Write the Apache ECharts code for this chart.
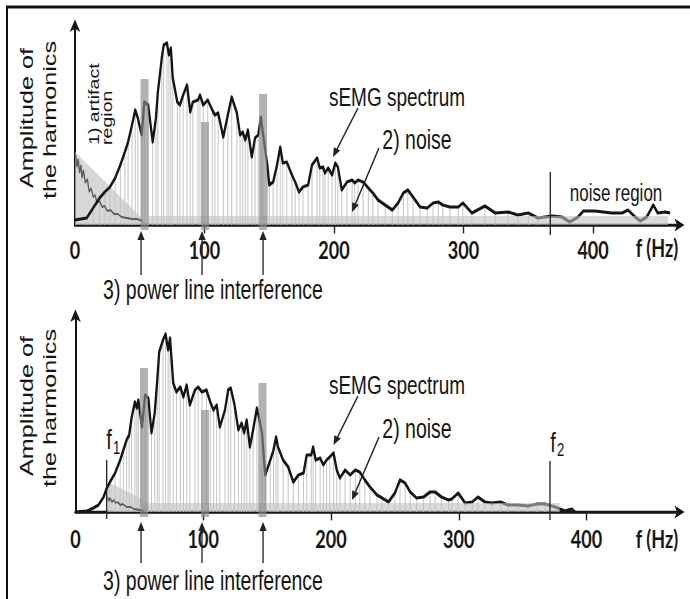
<!DOCTYPE html>
<html>
<head>
<meta charset="utf-8">
<script src="https://cdn.jsdelivr.net/npm/echarts@6/dist/echarts.min.js"></script>
<style>
  html, body { margin: 0; padding: 0; background: #fff; overflow: hidden; }
  #wrap { width: 690px; height: 599px; overflow: hidden; }
  /* the figure is drawn at a compressed height and stretched vertically */
  #chart { width: 690px; height: 428px; transform: scaleY(1.39953); transform-origin: 0 0; }
</style>
</head>
<body>
<div id="wrap"><div id="chart"></div></div>
<script>
// ---------- data ----------
// tick values of the frequency axis (Hz)
const freqTicks = [0, 100, 200, 300, 400];

// raw sEMG spectrum with artifacts and noise: [frequency Hz, amplitude]
const spectrumRaw = [
  [0,5],[9,7],[14,17],[19,27],[23,33],[27,38],[31,47],[35,60],[38.5,73],[41,83],[44,100],[46.5,115],
  [48.5,107],[51.5,90],[53.5,123],[56.5,120],[60,83],[62.5,107],[64,133],[67,167],[68.5,180],[71,182],
  [72.5,170],[74,177],[75.5,147],[79,123],[81,120],[83.5,130],[86.5,140],[89,113],[91,123],[95,125],
  [96.5,130],[99,120],[102.5,125],[106,115],[108,110],[110.5,112],[114.5,88],[118,110],[121,128],[125,112],
  [127.5,90],[129.5,93],[131.5,85],[133.5,95],[136.5,68],[139,87],[141.5,90],[143.5,108],[145,93],[148.5,60],
  [150,40],[153,43],[156,60],[158.5,78],[160.5,62],[163.5,63],[167.5,50],[170,43],[173,33],[176,38],
  [180,40],[183,60],[187,67],[189,57],[191.5,58],[193,52],[195.5,57],[198.5,50],[201,62],[203,58],
  [206,35],[210,43],[214,45],[216,42],[218.5,45],[222.5,43],[226.5,37],[230,32],[234,25],[239.5,20],
  [245,15],[249.5,22],[253.5,32],[257,35],[261,28],[266.5,18],[272,17],[276.5,22],[280.5,23],[284,20],
  [289.5,18],[296,18],[299.5,22],[306.5,12],[316.5,19],[324.5,12],[334.5,13],[342,10],[350,12],[357.5,7],
  [368.5,9],[376,8],[382,3],[388.5,8],[392.5,14],[401.5,14],[414.5,12],[422.5,12],[427,15],[432.5,8],
  [436.5,4],[441.5,8],[446.5,20],[450,12],[455.5,13],[459.5,12]
];
// movement artifact component at low frequencies
const artifactRaw = [
  [0.5,70],[1.5,58],[2.5,66],[3.5,52],[4.5,60],[5.5,47],[6.5,55],[8,42],[9.5,46],[11,33],[12.5,37],
  [14,28],[15.5,30],[17,22],[19,24],[21,18],[23,19],[25,14],[27.5,15],[30,11],[33,11],[36,8],[40,7],
  [44,6],[48,6],[52,4]
];
// power line peaks (50 Hz and harmonics): [frequency, amplitude]
const powerLineRaw = [[53.7,146],[100.4,103],[145.2,131]];

// filtered spectrum, band-limited between f1 and f2
const spectrumFiltered = [
  [0,0],[9,1],[14,4],[18,7],[22,15],[24.5,24],[27,30],[31,39],[35,52],[37.5,62],[40,72],[42,77],[44,95],
  [46.5,110],[48,104],[49.2,112],[52,85],[54.5,117],[57,114],[59.5,79],[62,99],[64,132],[65.5,160],
  [68.5,172],[70.5,178],[72.5,162],[74,174],[76.5,129],[79,120],[82,125],[84.5,115],[87,127],[89.5,107],
  [93.5,122],[96,125],[99,120],[102.5,122],[105.5,110],[108,102],[110.5,107],[113,85],[117,102],[119.5,122],
  [121.5,124],[124.5,107],[127.5,82],[130,89],[132,79],[134,92],[136.5,65],[139,82],[142,104],[143.5,95],
  [146,79],[148.5,37],[152.5,52],[155,62],[157,75],[158.5,65],[162.5,52],[166.5,45],[170.5,30],[174.5,37],
  [178.5,39],[181,57],[184.5,57],[186,65],[188,52],[191.5,54],[194,47],[196.5,52],[199,55],[202,59],
  [204.5,42],[207,34],[211,42],[215,37],[219,42],[222.5,40],[226.5,32],[230.5,25],[236,17],[240,14],
  [245,10],[250,19],[254,32],[258,29],[262,20],[267,14],[272.5,15],[277.5,20],[281.5,20],[286.5,15],
  [292,12],[294.5,13],[299.5,19],[305,9],[310.5,10],[315,15],[320.5,10],[326,9],[332.5,10],[338.5,7],
  [346.5,7],[354,6],[361.5,8],[367.5,8],[373,6],[377.5,4],[383,1],[388.5,3],[391,0]
];
const artifactFiltered = [
  [25,15],[26,11],[27,14],[28.5,10],[30,12],[31.5,9],[33,10],[35,7],[37,8],[40,5],[43,5],[46,3],[50,2],[54,1]
];
const powerLineFiltered = [[53.6,144],[101.4,102],[146.4,129]];

// cut-off frequencies (Hz)
const noiseLimit = 367;
const f1 = 24.4;
const f2 = 371.4;

// ---------- drawing ----------
const SY = 1.39953;           // vertical stretch applied to the chart element
const fy = y => y / SY;       // page y -> chart y
const ink = '#151515';
const sans = '"Liberation Sans", Arial, sans-serif';

function arrowGroup(a, b, color, lw, headLen, headHalf) {
  const ax = a[0], ay = a[1] * SY, bx = b[0], by = b[1] * SY;
  const dx = bx - ax, dy = by - ay, L = Math.hypot(dx, dy);
  const ux = dx / L, uy = dy / L, px = -uy, py = ux;
  const cx = bx - ux * headLen, cy = by - uy * headLen;
  const pts = [[bx, by], [cx + px * headHalf, cy + py * headHalf], [cx - px * headHalf, cy - py * headHalf]]
    .map(p => [p[0], p[1] / SY]);
  return { type: 'group', children: [
    { type: 'line', shape: { x1: ax, y1: ay / SY, x2: cx, y2: cy / SY }, style: { stroke: color, lineWidth: lw } },
    { type: 'polygon', shape: { points: pts }, style: { fill: color } }
  ]};
}

function arrowSeries(xi, yi, items) {
  return {
    type: 'custom', xAxisIndex: xi, yAxisIndex: yi, clip: false, z: 8, silent: true,
    encode: { x: [0, 2], y: [1, 3] },
    data: items,
    renderItem: (params, api) => arrowGroup(
      api.coord([api.value(0), api.value(1)]),
      api.coord([api.value(2), api.value(3)]), '#222', 1.3, 9, 3.6)
  };
}

function powerBars(xi, yi, items) {
  return {
    type: 'custom', xAxisIndex: xi, yAxisIndex: yi, clip: false, z: 7, silent: true,
    data: items,
    renderItem: (params, api) => {
      const t = api.coord([api.value(0), api.value(1)]);
      const b = api.coord([api.value(0), -5]);
      return { type: 'rect', shape: { x: t[0] - 4, y: t[1], width: 8, height: b[1] - t[1] },
               style: { fill: '#8a8a8a', opacity: 0.66 } };
    }
  };
}

function refLine(xi, yi, hz, top, bottom) {
  return {
    type: 'custom', xAxisIndex: xi, yAxisIndex: yi, clip: false, z: 8, silent: true,
    data: [[hz, top, bottom]],
    encode: { x: 0, y: [1, 2] },
    renderItem: (params, api) => {
      const a = api.coord([api.value(0), api.value(1)]);
      const b = api.coord([api.value(0), api.value(2)]);
      return { type: 'line', shape: { x1: a[0], y1: a[1], x2: b[0], y2: b[1] },
               style: { stroke: '#222', lineWidth: 1.3 } };
    }
  };
}

function xAxisDef(gi, max, margin) {
  return {
    type: 'value', gridIndex: gi, min: 0, max: max, interval: 100,
    splitLine: { show: false },
    axisLine: { onZero: true, symbol: ['none', 'arrow'], symbolSize: [7, 10], symbolOffset: [0, 6],
                lineStyle: { color: ink, width: 2.2 } },
    axisTick: { show: true, length: 6, customValues: [100, 200, 300, 400],
                lineStyle: { color: '#222', width: 1.4 } },
    axisLabel: { show: true, margin: margin, customValues: freqTicks, color: ink,
                 fontFamily: 'Lato, "Open Sans", sans-serif', fontWeight: 'bold', fontSize: 18 }
  };
}

function yAxisDef(gi, max) {
  return {
    type: 'value', gridIndex: gi, min: 0, max: max,
    splitLine: { show: false }, axisTick: { show: false }, axisLabel: { show: false },
    axisLine: { show: true, symbol: ['none', 'arrow'], symbolSize: [8, 9], symbolOffset: [0, 4],
                lineStyle: { color: ink, width: 2 } }
  };
}

function panelSeries(xi, spectrum, artifact, power, harmonicsFrom, harmonicsTo, triangle, band) {
  return [
    { type: 'line', xAxisIndex: xi, yAxisIndex: xi, data: triangle, showSymbol: false, silent: true,
      lineStyle: { width: 0 }, areaStyle: { color: '#c6c6c6', opacity: 0.7 }, z: 1 },
    { type: 'bar', xAxisIndex: xi, yAxisIndex: xi, barWidth: 1, silent: true,
      data: spectrum.filter(p => p[0] >= harmonicsFrom && p[0] <= harmonicsTo),
      itemStyle: { color: '#c4c4c4' }, z: 2 },
    { type: 'line', xAxisIndex: xi, yAxisIndex: xi, data: artifact, showSymbol: false, silent: true,
      lineStyle: { color: '#5c5c5c', width: 1.3 }, z: 3 },
    { type: 'line', xAxisIndex: xi, yAxisIndex: xi, data: spectrum, showSymbol: false, silent: true,
      lineStyle: { color: ink, width: 2.3, join: 'round' }, z: 4 },
    { type: 'line', xAxisIndex: xi, yAxisIndex: xi, data: band, showSymbol: false, silent: true,
      lineStyle: { width: 0 }, areaStyle: { color: '#c2c2c2', opacity: 0.6 }, z: 5 },
    powerBars(xi, xi, power)
  ];
}

function txt(text, xf, yf, size, extra) {
  const el = {
    type: 'text', x: xf, y: fy(yf), silent: true, z: 20,
    style: { text: text, fill: ink, fontFamily: sans, fontSize: size, align: 'center', verticalAlign: 'middle' }
  };
  if (extra) {
    if (extra.rotation) el.rotation = extra.rotation;
    Object.assign(el.style, extra.style || {});
  }
  return el;
}
const UP = { rotation: Math.PI / 2 };
const UP_LEFT = { rotation: Math.PI / 2, style: { align: 'left' } };
const BOLD = { style: { fontFamily: 'Lato, "Open Sans", sans-serif', fontWeight: 'bold' } };

const graphics = [
  { type: 'rect', silent: true, z: 30, shape: { x: 7, y: fy(7), width: 690, height: 700 },
    style: { fill: 'none', stroke: '#111', lineWidth: 2 } },
  // upper panel
  txt('Amplitude of', 27, 118, 18, UP),
  txt('the harmonics', 50, 120, 18, UP),
  txt('1) artifact', 94, 145, 14, UP_LEFT),
  txt('region', 107, 145, 14, UP_LEFT),
  txt('sEMG spectrum', 397, 97, 19),
  txt('2) noise', 417, 140, 19.5),
  txt('noise region', 616, 192, 17),
  txt('f (Hz)', 657, 247, 18, BOLD),
  txt('3) power line interference', 213, 290, 19.5),
  // lower panel
  txt('Amplitude of', 27, 406, 18, UP),
  txt('the harmonics', 50, 408, 18, UP),
  txt('sEMG spectrum', 397, 385, 19),
  txt('2) noise', 417, 429, 19.5),
  txt('f', 109, 439, 20),
  txt('1', 116.5, 448, 13),
  txt('f', 553, 442, 20),
  txt('2', 560.5, 450, 13),
  txt('f (Hz)', 657, 538, 18, BOLD),
  txt('3) power line interference', 213, 581, 19.5)
];

const option = {
  animation: false,
  backgroundColor: '#fff',
  grid: [
    { left: 75, top: fy(25), width: 603.5, height: fy(225) - fy(25) },
    { left: 75.5, top: fy(315), width: 603, height: fy(512) - fy(315) }
  ],
  xAxis: [ xAxisDef(0, 466, 8), xAxisDef(1, 472, 10) ],
  yAxis: [ yAxisDef(0, 200), yAxisDef(1, 197) ],
  series: [
    ...panelSeries(0, spectrumRaw, artifactRaw, powerLineRaw, 5, noiseLimit, [[0, 73], [57, 0]], [[56, 9], [458, 9]]),
    ...panelSeries(1, spectrumFiltered, artifactFiltered, powerLineFiltered, f1, f2, [[25, 30], [57, 10]], [[54, 9], [379, 9]]),
    refLine(0, 0, noiseLimit, 53, -10),
    refLine(1, 1, f1, 52, -7),
    refLine(1, 1, f2, 51, -8),
    arrowSeries(0, 0, [[51, -50, 51, -6], [98.1, -50, 98.1, -6], [145.2, -50, 145.2, -6],
                       [218.5, 117, 199.2, 68], [234.7, 77, 213.9, 13]]),
    arrowSeries(1, 1, [[51.3, -51, 51.3, -10], [99, -51, 99, -10], [146.8, -51, 146.8, -10],
                       [221.1, 116, 202, 67], [237.6, 75, 216.4, 12]])
  ],
  graphic: graphics
};

const chart = echarts.init(document.getElementById('chart'), null, { renderer: 'svg', width: 690, height: 428 });
chart.setOption(option);
</script>
</body>
</html>
